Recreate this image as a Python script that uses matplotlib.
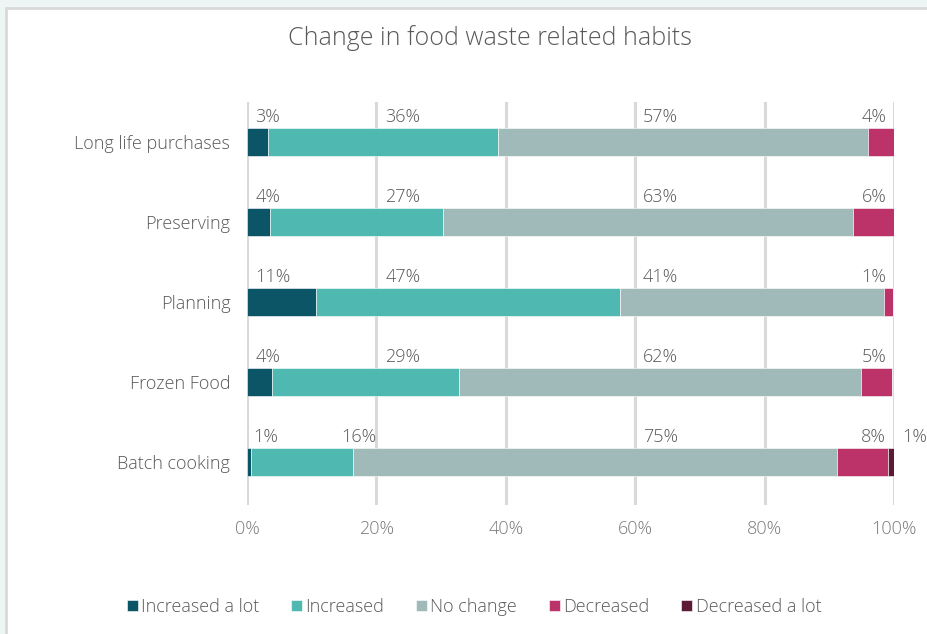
import matplotlib.pyplot as plt
from matplotlib.patches import Rectangle
import numpy as np

# data (percent)
categories = ["Long life purchases", "Preserving", "Planning", "Frozen Food", "Batch cooking"]
series_names = ["Increased a lot", "Increased", "No change", "Decreased", "Decreased a lot"]
inc_lot = [3.3, 3.6, 10.6, 3.9, 0.6]
inc = [35.5, 26.7, 47.0, 28.8, 15.8]
no_change = [57.2, 63.4, 40.9, 62.2, 74.8]
dec = [4.0, 6.3, 1.4, 4.8, 7.9]
dec_lot = [0.0, 0.0, 0.0, 0.0, 0.9]

labels = [["3%", "36%", "57%", "4%", ""],
          ["4%", "27%", "63%", "6%", ""],
          ["11%", "47%", "41%", "1%", ""],
          ["4%", "29%", "62%", "5%", ""],
          ["1%", "16%", "75%", "8%", "1%"]]

colors = ["#0b5566", "#4fb9b1", "#a0b9b9", "#bc336a", "#5d1a37"]
txt = "#595959"
W = 300  # font weight
FS = 13

plt.rcParams['font.family'] = ['Open Sans', 'DejaVu Sans']

fig = plt.figure(figsize=(9.28, 6.34), dpi=100)
fig.patch.set_facecolor("#eef6f5")
fig.patches.append(Rectangle((6/928, -0.1), 1.0, 1 - 8/634 + 0.1, transform=fig.transFigure,
                             facecolor="white", edgecolor="#d9d9d9", linewidth=2, zorder=-5))

ax = fig.add_axes([247/928, 1 - 505/634, 647/928, 403/634])
ax.set_facecolor("none")

data = np.array([inc_lot, inc, no_change, dec, dec_lot])
y = np.arange(len(categories))
left = np.zeros(len(categories))
for i, name in enumerate(series_names):
    ax.barh(y, data[i], left=left, height=0.35, color=colors[i], label=name,
            edgecolor="white", linewidth=0.4, zorder=3)
    left += data[i]

# label positions (left edge of text), fixed columns as in the original
for r in range(len(categories)):
    ty = y[r] - 0.2
    xs = [1.3, 21.4, 61.2]
    if r == 4:
        xs = [0.9, 14.6, 61.2]
    for k in range(3):
        ax.text(xs[k], ty, labels[r][k], ha="left", va="bottom", fontsize=FS,
                color=txt, fontweight=W)
    ax.text(98.8, ty, labels[r][3], ha="right", va="bottom", fontsize=FS,
            color=txt, fontweight=W)
    if labels[r][4]:
        ax.text(101.3, ty, labels[r][4], ha="left", va="bottom", fontsize=FS,
                color=txt, fontweight=W, clip_on=False)

ax.set_xlim(0, 100)
ax.set_ylim(len(categories) - 0.5 + 0.04, -0.5)
ax.set_yticks(y)
ax.set_yticklabels(categories, fontsize=FS, color=txt, fontweight=W)
ax.set_xticks(np.arange(0, 101, 20))
ax.set_xticklabels([f"{v}%" for v in range(0, 101, 20)], fontsize=FS, color="#7a7a7a",
                   fontweight=W)
ax.tick_params(length=0)
ax.tick_params(axis="y", pad=12)
ax.tick_params(axis="x", pad=11)
ax.xaxis.grid(True, color="#d9d9d9", linewidth=2.2, zorder=0)
ax.set_axisbelow(True)
for s in ax.spines.values():
    s.set_visible(False)

fig.text(490/928, 1 - 38/634, "Change in food waste related habits", ha="center", va="center",
         fontsize=18, color=txt, fontweight=W)

leg = fig.legend(loc="center", bbox_to_anchor=(474/928, 1 - 607/634), ncol=5, frameon=False,
                 handlelength=0.6, handleheight=0.6, handletextpad=0.2,
                 columnspacing=1.75, labelcolor=txt, prop={"weight": W, "size": FS})

fig.savefig("out.png", dpi=100, facecolor=fig.get_facecolor())
